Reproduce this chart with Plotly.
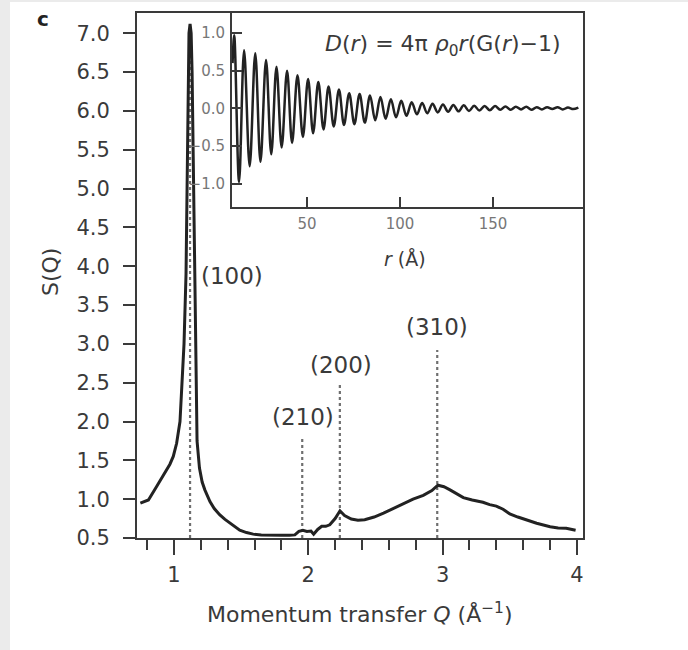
import plotly.graph_objects as go

# ---- main S(Q) curve ----
Q = [0.75, 0.81, 0.87, 0.93, 0.97, 0.995, 1.02, 1.045, 1.06, 1.075, 1.09, 1.097, 1.105, 1.112, 1.12,
     1.128, 1.135, 1.145, 1.152, 1.16, 1.165, 1.172, 1.19, 1.21, 1.23, 1.268, 1.30, 1.34, 1.38, 1.417,
     1.45, 1.49, 1.54, 1.59, 1.65, 1.715, 1.80, 1.86, 1.90, 1.93, 1.96, 1.99, 2.02, 2.04, 2.07, 2.10,
     2.13, 2.16, 2.20, 2.236, 2.27, 2.32, 2.37, 2.42, 2.49, 2.56, 2.63, 2.71, 2.78, 2.856, 2.92, 2.965,
     3.01, 3.055, 3.10, 3.154, 3.22, 3.30, 3.35, 3.40, 3.45, 3.50, 3.56, 3.625, 3.70, 3.80, 3.86, 3.92,
     3.96, 3.99]
S = [0.95, 0.99, 1.16, 1.33, 1.45, 1.55, 1.72, 2.0, 2.5, 3.0, 3.9, 5.0, 6.5, 7.0, 7.12,
     7.0, 6.5, 5.0, 4.0, 3.0, 2.2, 1.75, 1.4, 1.22, 1.12, 0.97, 0.88, 0.80, 0.74, 0.69,
     0.645, 0.60, 0.57, 0.55, 0.54, 0.535, 0.535, 0.535, 0.54, 0.585, 0.60, 0.585, 0.59, 0.55, 0.61, 0.65,
     0.65, 0.67, 0.75, 0.85, 0.79, 0.745, 0.73, 0.735, 0.77, 0.82, 0.88, 0.95, 1.0, 1.05, 1.11, 1.18,
     1.16, 1.12, 1.07, 1.02, 0.99, 0.96, 0.93, 0.91, 0.87, 0.81, 0.77, 0.73, 0.69, 0.645, 0.63, 0.625,
     0.61, 0.60]

# ---- reflections ----
peak_labels = ["(100)", "(210)", "(200)", "(310)"]
peak_Q = [1.12, 1.955, 2.235, 2.96]
peak_line_top = [7.0, 1.80, 2.50, 2.92]
label_Q = [1.43, 1.96, 2.24, 2.96]
label_S = [3.88, 2.06, 2.73, 3.22]

# ---- inset D(r): extrema ----
r_ext = [10.0, 10.9, 13.5, 16.2, 19.2, 22.2, 25.0, 28.0, 30.8, 33.6, 36.4, 39.3, 42.0, 44.9, 47.8,
         50.6, 53.3, 56.1, 58.9, 61.6, 64.4, 67.2, 69.9, 72.7, 75.5, 78.3, 81.1, 83.9, 86.7, 89.5,
         92.3, 95.1, 97.9, 100.7, 103.5, 106.3, 109.1, 111.9, 114.7, 117.5, 120.3, 123.1, 125.9,
         128.7, 131.5, 134.3, 137.1, 139.9, 142.7, 145.5, 148.3, 151.1, 153.9, 156.7, 159.5, 162.3,
         165.1, 167.9, 170.7, 173.5, 176.3, 179.1, 181.9, 184.7, 187.5, 190.3, 193.1, 195.9]
D_ext = [0.60, 0.97, -0.98, 0.77, -0.77, 0.73, -0.71, 0.64, -0.61, 0.55, -0.52, 0.50, -0.46, 0.44, -0.38,
         0.39, -0.33, 0.35, -0.28, 0.29, -0.24, 0.25, -0.22, 0.20, -0.21, 0.19, -0.19, 0.17, -0.16, 0.15,
         -0.14, 0.12, -0.12, 0.10, -0.10, 0.08, -0.08, 0.07, -0.065, 0.06, -0.055, 0.05, -0.045,
         0.045, -0.04, 0.04, -0.035, 0.035, -0.03, 0.03, -0.025, 0.03, -0.02, 0.025, -0.02, 0.02,
         -0.015, 0.02, -0.02, 0.015, -0.015, 0.015, -0.01, 0.015, -0.015, 0.01, -0.01, 0.01]

y_ticks = [0.5, 1.0, 1.5, 2.0, 2.5, 3.0, 3.5, 4.0, 4.5, 5.0, 5.5, 6.0, 6.5, 7.0]
x_ticks = [1, 2, 3, 4]
inset_x_ticks = [50, 100, 150]
inset_y_ticks = [-1.0, -0.5, 0.0, 0.5, 1.0]
inset_y_text = ["\u22121.0", "\u22120.5", "0.0", "0.5", "1.0"]

FONT = "DejaVu Sans"
TXT = "#3a3a3a"
AX = "#3a3a3a"

fig = go.Figure()

# dotted reflection lines
for q, top in zip(peak_Q, peak_line_top):
    fig.add_trace(go.Scatter(x=[q, q], y=[0.5, top], mode="lines",
                             line=dict(color="#6f6f6f", width=2.2, dash="dot"),
                             showlegend=False, hoverinfo="skip", xaxis="x", yaxis="y"))

fig.add_trace(go.Scatter(x=Q, y=S, mode="lines", line=dict(color="#222222", width=3),
                         showlegend=False, xaxis="x", yaxis="y"))

fig.add_trace(go.Scatter(x=r_ext, y=D_ext, mode="lines",
                         line=dict(color="#222222", width=2.5, shape="spline", smoothing=1),
                         showlegend=False, xaxis="x2", yaxis="y2"))

annotations = []
for lab, q, s in zip(peak_labels, label_Q, label_S):
    annotations.append(dict(x=q, y=s, xref="x", yref="y", text=lab, showarrow=False,
                            xanchor="center", yanchor="middle",
                            font=dict(family=FONT, size=23, color=TXT)))

annotations += [
    dict(x=43, y=19, text="<b>c</b>", showarrow=False, xanchor="center",
         font=dict(family=FONT, size=20, color="#222")),
    dict(x=360, y=613, text="Momentum transfer <i>Q</i> (Å<sup>\u22121</sup>)", showarrow=False,
         xanchor="center", font=dict(family=FONT, size=22, color=TXT)),
    dict(x=50, y=272, text="S(Q)", textangle=-90, showarrow=False, xanchor="center",
         font=dict(family=FONT, size=22, color=TXT)),
    dict(x=405, y=259, text="<i>r</i> (Å)", showarrow=False, xanchor="center",
         font=dict(family=FONT, size=19, color=TXT)),
    dict(x=563, y=45, text="<i>D</i>(<i>r</i>) = 4π <i>ρ</i><sub>0</sub><i>r</i>(G(<i>r</i>)\u22121)",
         xanchor="right", showarrow=False, font=dict(family=FONT, size=22, color=TXT)),
]

# convert pixel-positioned annotations to paper coords
L, R, T, B = 137, 583, 13, 538
for a in annotations:
    if a.get("xref") == "x":
        continue
    px, py = a["x"], a["y"]
    a["xref"] = "paper"
    a["yref"] = "paper"
    a["yanchor"] = "middle"
    a["x"] = (px - L) / (R - L)
    a["y"] = (B - py) / (B - T)

fig.update_layout(
    width=688, height=650,
    margin=dict(l=L, r=688 - R, t=T, b=650 - B),
    paper_bgcolor="white", plot_bgcolor="white",
    annotations=annotations,
    shapes=[dict(type="rect", xref="paper", yref="paper",
                 x0=(0 - L) / (R - L), x1=(10 - L) / (R - L),
                 y0=(B - 650) / (B - T), y1=(B - 0) / (B - T),
                 fillcolor="#ebebeb", line=dict(width=0), layer="below"),
            dict(type="rect", xref="paper", yref="paper",
                 x0=(0 - L) / (R - L), x1=(688 - L) / (R - L),
                 y0=(B - 2) / (B - T), y1=(B - 0) / (B - T),
                 fillcolor="#ebebeb", line=dict(width=0), layer="below")],
    xaxis=dict(domain=[0, 1], range=[0.725, 4.045], tickvals=x_ticks, ticktext=[str(v) for v in x_ticks],
               ticks="outside", ticklen=15, tickwidth=2, tickcolor=AX,
               minor=dict(dtick=0.2, tick0=0, ticks="outside", ticklen=10, tickwidth=2, tickcolor=AX),
               showline=True, linecolor=AX, linewidth=2, mirror=True, showgrid=False, zeroline=False,
               tickfont=dict(family=FONT, size=21, color=TXT), ticklabelstandoff=2, anchor="y"),
    yaxis=dict(domain=[0, 1], range=[0.5, 7.26], tickvals=y_ticks, ticktext=[f"{v:.1f}" for v in y_ticks],
               ticks="outside", ticklen=12, tickwidth=2, tickcolor=AX,
               showline=True, linecolor=AX, linewidth=2, mirror=True, showgrid=False, zeroline=False,
               tickfont=dict(family=FONT, size=21, color=TXT), ticklabelstandoff=9, anchor="x"),
    xaxis2=dict(domain=[(232 - L) / (R - L), 1], range=[9.7, 198.4], tickvals=inset_x_ticks,
                ticks="inside", ticklen=10, tickwidth=2, tickcolor=AX,
                showline=True, linecolor=AX, linewidth=2, mirror=True, showgrid=False, zeroline=False,
                tickfont=dict(family=FONT, size=15, color="#777"), ticklabelstandoff=2, anchor="y2"),
    yaxis2=dict(domain=[(B - 207) / (B - T), 1], range=[-1.31, 1.265], tickvals=inset_y_ticks,
                ticktext=inset_y_text,
                ticks="inside", ticklen=10, tickwidth=2, tickcolor=AX,
                showline=True, linecolor=AX, linewidth=2, mirror=True, showgrid=False, zeroline=False,
                tickfont=dict(family=FONT, size=15, color="#777"), ticklabelstandoff=2, anchor="x2"),
)

fig.write_html("out.html", config={"displayModeBar": False},
               post_script="document.body.style.margin='0';")
